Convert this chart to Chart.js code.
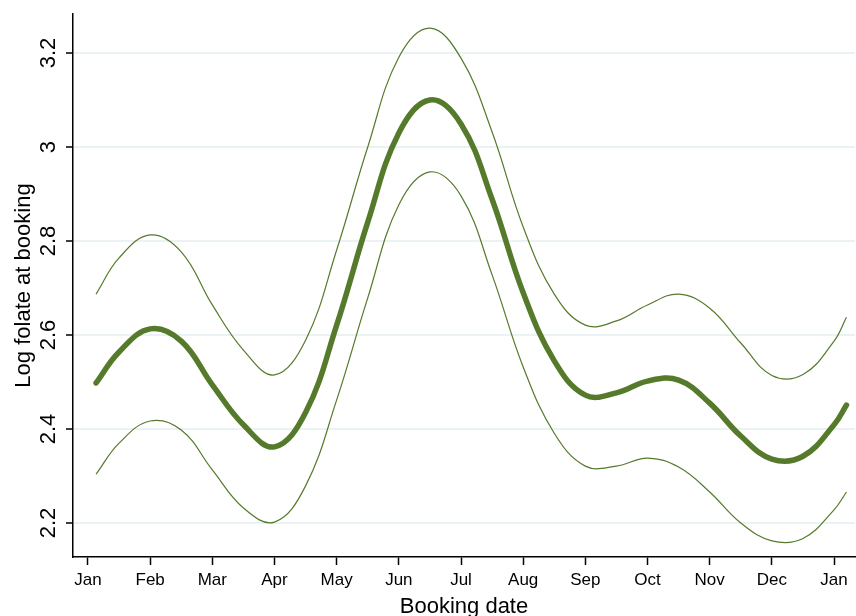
<!DOCTYPE html>
<html>
<head>
<meta charset="utf-8">
<script src="https://cdn.jsdelivr.net/npm/chart.js@4/dist/chart.umd.min.js"></script>
<style>
  html, body { margin: 0; padding: 0; background: #fff; }
  canvas { display: block; }
</style>
</head>
<body>
<canvas id="chart" width="856" height="616"></canvas>
<script>
// month position (0 = Jan, 12 = next Jan)
const months = [0.13, 0.5, 1, 1.5, 2, 2.5, 3, 3.5, 4, 4.5, 5, 5.5, 6, 6.5, 7, 7.5, 8, 8.5, 9, 9.5, 10, 10.5, 11, 11.5, 12, 12.2];

const upperCI = [2.687, 2.764, 2.813, 2.777, 2.664, 2.568, 2.515, 2.589, 2.781, 3.000, 3.191, 3.253, 3.189, 3.032, 2.830, 2.687, 2.621, 2.630, 2.664, 2.687, 2.657, 2.583, 2.514, 2.516, 2.587, 2.638];
const fitted  = [2.498, 2.564, 2.613, 2.587, 2.494, 2.409, 2.362, 2.435, 2.621, 2.840, 3.030, 3.100, 3.049, 2.889, 2.690, 2.545, 2.472, 2.477, 2.502, 2.504, 2.455, 2.385, 2.336, 2.342, 2.409, 2.451];
const lowerCI = [2.304, 2.370, 2.417, 2.398, 2.313, 2.232, 2.202, 2.279, 2.462, 2.679, 2.877, 2.947, 2.896, 2.728, 2.532, 2.391, 2.321, 2.321, 2.338, 2.319, 2.266, 2.200, 2.162, 2.167, 2.228, 2.266];

const monthLabels = ["Jan", "Feb", "Mar", "Apr", "May", "Jun", "Jul", "Aug", "Sep", "Oct", "Nov", "Dec", "Jan"];
const yTickValues = [2.2, 2.4, 2.6, 2.8, 3, 3.2];

const lineColor = "#557a2b";
const toPoints = arr => months.map((m, i) => ({ x: m, y: arr[i] }));

// y tick labels and axis titles are drawn rotated like the original
const textPlugin = {
  id: "stataText",
  afterDraw(chart) {
    const ctx = chart.ctx;
    const y = chart.scales.y;
    const area = chart.chartArea;
    ctx.save();
    ctx.fillStyle = "#000";
    ctx.font = "22px 'Liberation Sans', Arial, sans-serif";
    ctx.textAlign = "center";
    ctx.textBaseline = "alphabetic";
    yTickValues.forEach(v => {
      const py = y.getPixelForValue(v);
      ctx.save();
      ctx.translate(55, py);
      ctx.rotate(-Math.PI / 2);
      ctx.fillText(String(v), 0, 0);
      ctx.restore();
    });
    // y title
    ctx.save();
    ctx.translate(30, (area.top + area.bottom) / 2);
    ctx.rotate(-Math.PI / 2);
    ctx.fillText("Log folate at booking", 0, 0);
    ctx.restore();
    // x title
    ctx.fillText("Booking date", (area.left + area.right) / 2, 613);
    ctx.restore();
  }
};

new Chart(document.getElementById("chart"), {
  type: "line",
  data: {
    datasets: [
      {
        label: "Upper",
        data: toPoints(upperCI),
        borderColor: lineColor,
        borderWidth: 1.2,
        pointRadius: 0,
        tension: 0.4,
        fill: false
      },
      {
        label: "Lower",
        data: toPoints(lowerCI),
        borderColor: lineColor,
        borderWidth: 1.2,
        pointRadius: 0,
        tension: 0.4,
        fill: false
      },
      {
        label: "Fitted",
        data: toPoints(fitted),
        borderColor: lineColor,
        borderWidth: 5.5,
        borderCapStyle: "round",
        pointRadius: 0,
        tension: 0.4,
        fill: false
      }
    ]
  },
  options: {
    responsive: false,
    animation: false,
    devicePixelRatio: 1,
    layout: { padding: { top: 14, right: 1, left: 0, bottom: 0 } },
    plugins: {
      legend: { display: false },
      tooltip: { enabled: false }
    },
    scales: {
      x: {
        type: "linear",
        min: -0.241,
        max: 12.337,
        afterFit: s => { s.height = 59; },
        ticks: {
          stepSize: 1,
          includeBounds: false,
          autoSkip: false,
          maxRotation: 0,
          color: "#000",
          padding: 5,
          font: { family: "'Liberation Sans', Arial, sans-serif", size: 17 },
          callback: v => monthLabels[v]
        },
        grid: {
          drawOnChartArea: false,
          tickLength: 8,
          tickColor: "#000",
          tickWidth: 1.5
        },
        border: { color: "#000", width: 1.5 }
      },
      y: {
        min: 2.1277,
        max: 3.283,
        afterFit: s => { s.width = 73; },
        afterBuildTicks: s => { s.ticks = yTickValues.map(v => ({ value: v })); },
        ticks: { display: false },
        grid: {
          color: "#eaf2f3",
          lineWidth: 2,
          tickLength: 7,
          tickColor: "#000",
          tickWidth: 1.5
        },
        border: { color: "#000", width: 1.5 }
      }
    }
  },
  plugins: [textPlugin]
});
</script>
</body>
</html>
